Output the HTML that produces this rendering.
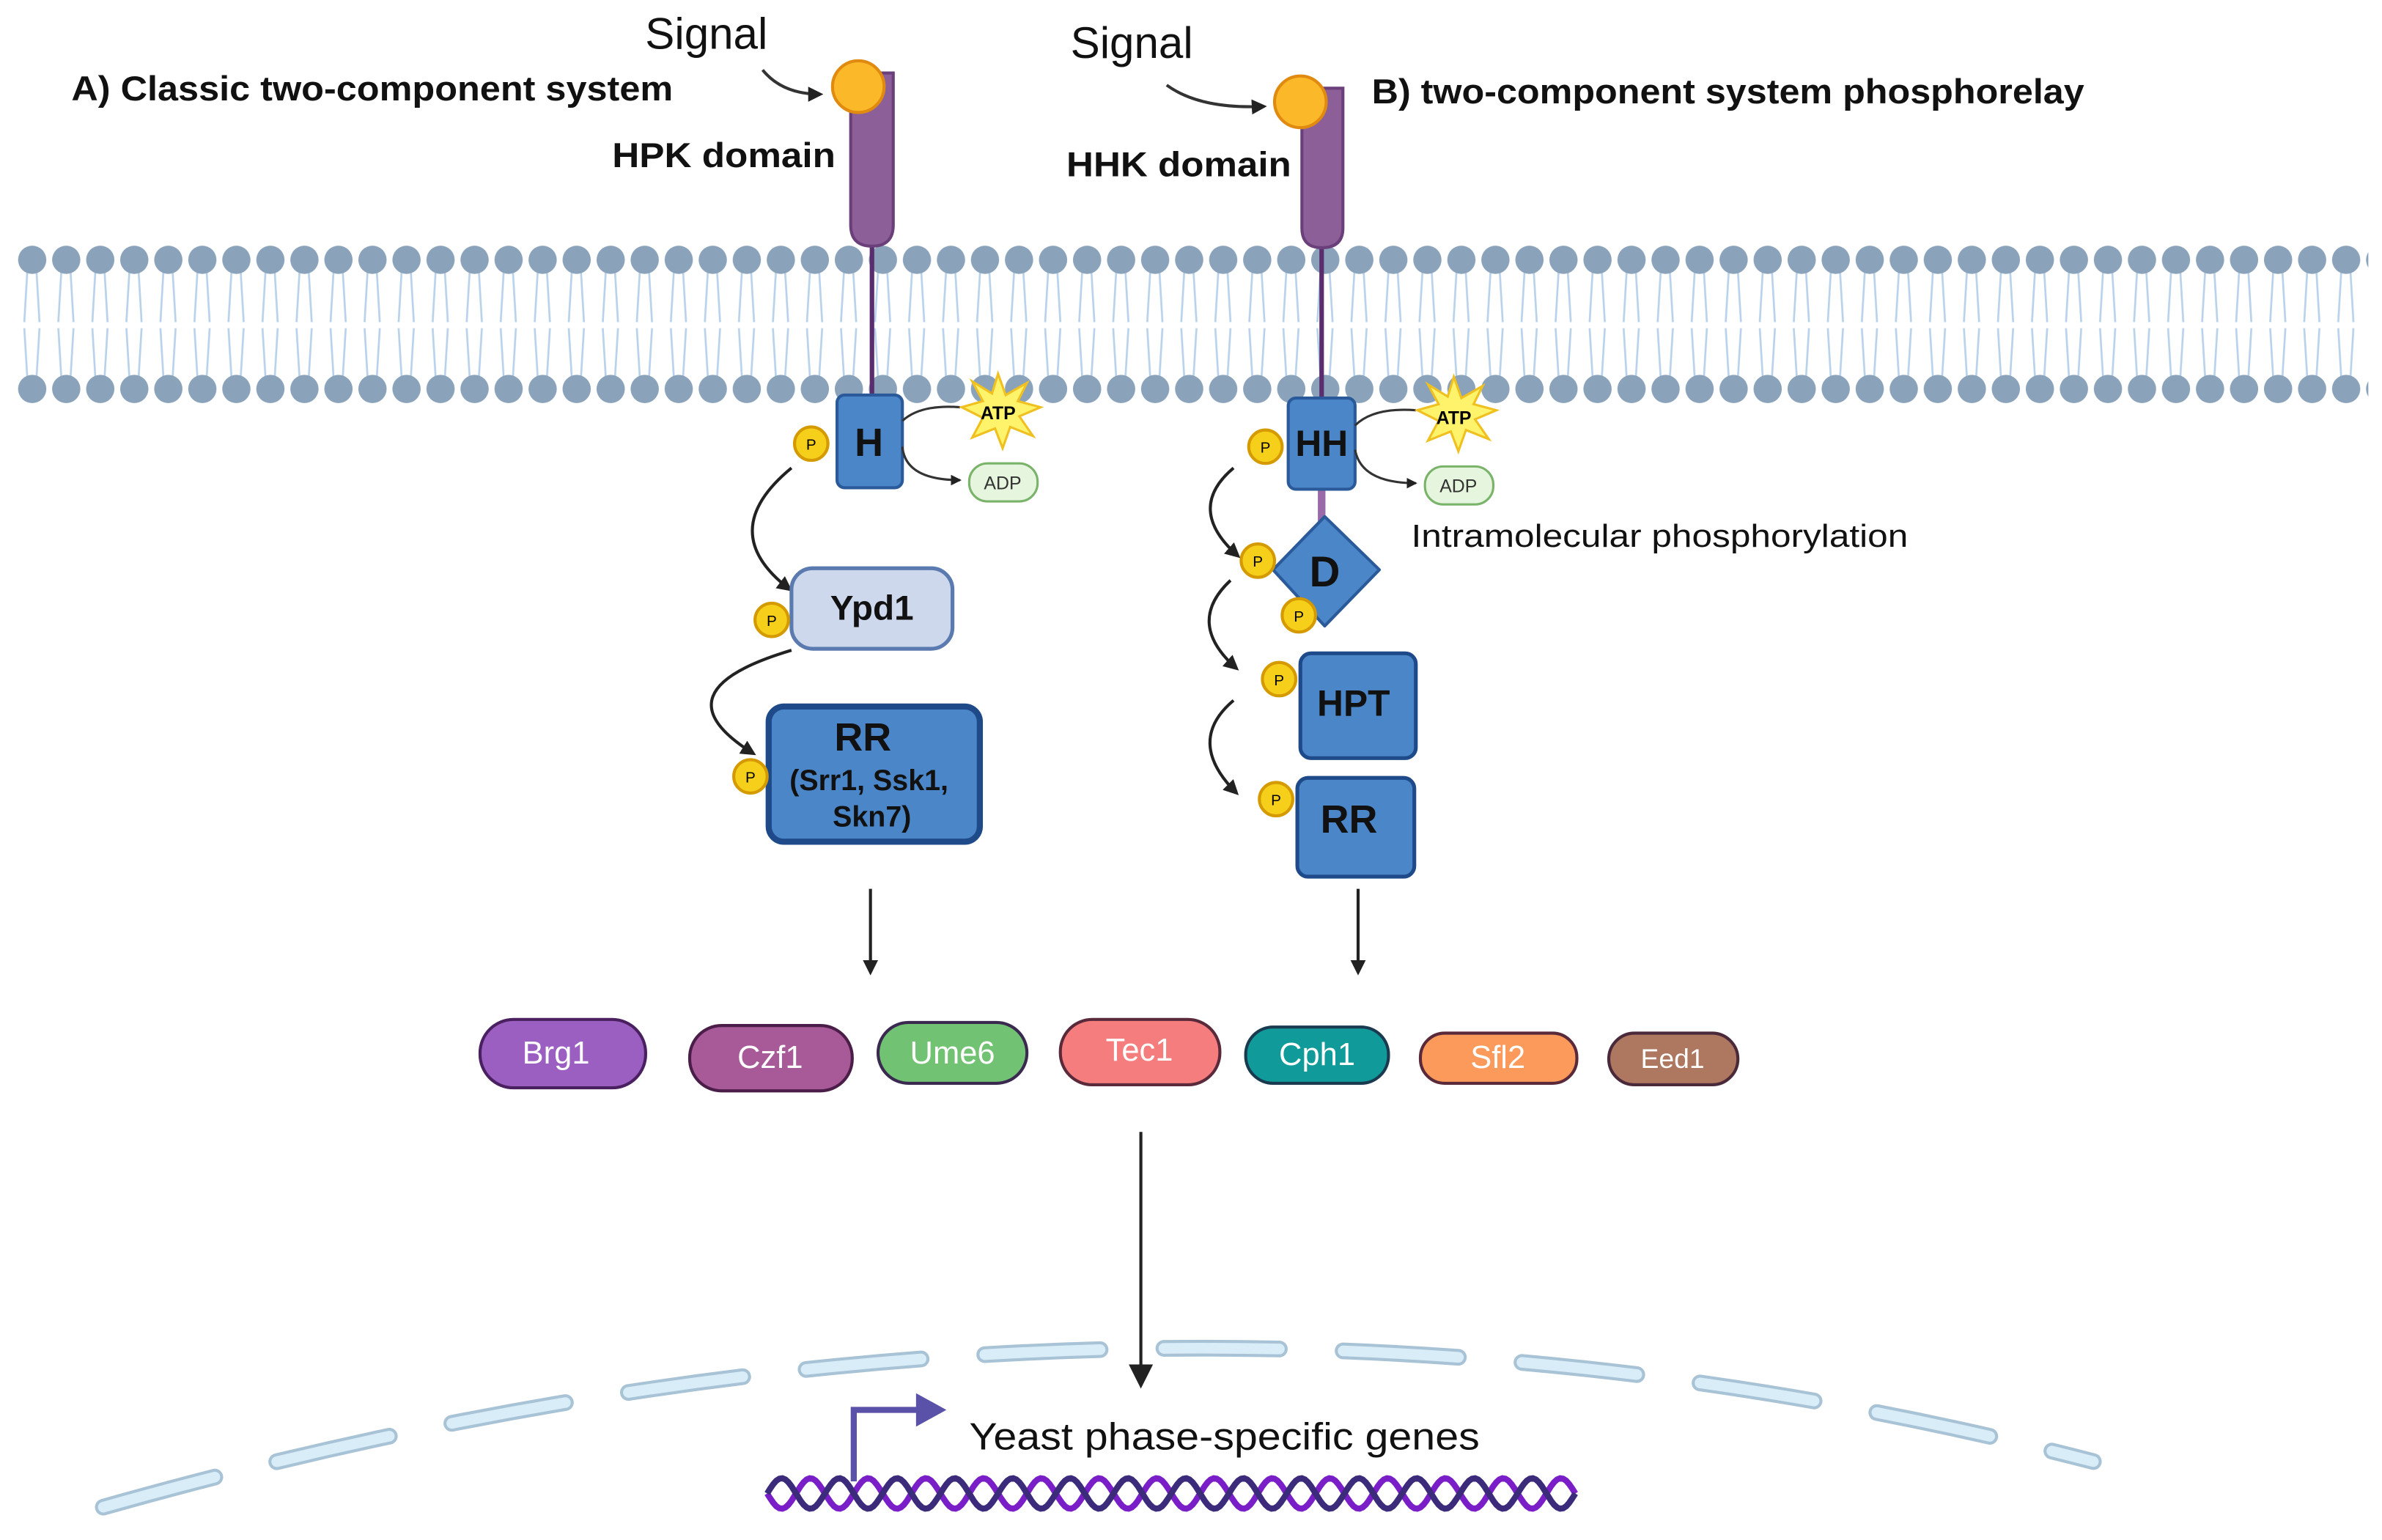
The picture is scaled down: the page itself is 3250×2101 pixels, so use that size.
<!DOCTYPE html>
<html><head><meta charset="utf-8"><style>
html,body{margin:0;padding:0;background:#fff;}
svg{display:block;}
text{font-family:"Liberation Sans",sans-serif;}
</style></head><body>
<svg id="s" width="3250" height="2101" viewBox="0 0 1568 1013.6" xmlns="http://www.w3.org/2000/svg">
<defs>
<pattern id="lip" x="10" y="160" width="22.4" height="107" patternUnits="userSpaceOnUse">
<g stroke="#b9d2ec" stroke-width="1.3" fill="none">
<path d="M8 18 L6 52 M14 18 L16 52"/>
<path d="M8 89 L6 56 M14 89 L16 56"/>
</g>
<circle cx="11.2" cy="11" r="9.3" fill="#8aa3bb"/>
<circle cx="11.2" cy="96" r="9.3" fill="#8aa3bb"/>
</pattern>
<marker id="ah" markerWidth="10" markerHeight="10" refX="8" refY="5" orient="auto" markerUnits="userSpaceOnUse"><path d="M0 0 L10 5 L0 10 Z" fill="#222"/></marker>
<marker id="ahs" markerWidth="7" markerHeight="7" refX="6" refY="3.5" orient="auto" markerUnits="userSpaceOnUse"><path d="M0 0 L7 3.5 L0 7 Z" fill="#222"/></marker>
<marker id="ahb" markerWidth="16" markerHeight="16" refX="14" refY="8" orient="auto" markerUnits="userSpaceOnUse"><path d="M0 0 L16 8 L0 16 Z" fill="#222"/></marker>
</defs>
<rect x="10" y="160" width="1549" height="107" fill="url(#lip)"/>

<!-- Left receptor -->
<line x1="574" y1="150" x2="574" y2="262" stroke="#5a2e6e" stroke-width="3"/>
<path d="M560 48 L588 48 L588 148 Q588 162 574 162 Q560 162 560 148 Z" fill="#8c5f98" stroke="#6a3f7a" stroke-width="2"/>
<circle cx="565" cy="57" r="17" fill="#fbb829" stroke="#e08a10" stroke-width="2"/>
<text x="465" y="32" font-size="29" text-anchor="middle" fill="#111">Signal</text>
<path d="M502 46 Q515 62 540 62" stroke="#333" stroke-width="2" fill="none" marker-end="url(#ah)"/>
<text x="47" y="66" font-size="23" font-weight="bold" fill="#111" textLength="396" lengthAdjust="spacingAndGlyphs">A) Classic two-component system</text>
<text x="403" y="110" font-size="23" font-weight="bold" fill="#111" textLength="147" lengthAdjust="spacingAndGlyphs">HPK domain</text>

<rect x="551" y="260" width="43" height="61" rx="5" fill="#4a86c8" stroke="#2a5a9a" stroke-width="2"/>
<text x="572" y="300" font-size="26" font-weight="bold" text-anchor="middle" fill="#111">H</text>
<g><circle cx="534" cy="292" r="11" fill="#f5cf1a" stroke="#d49a00" stroke-width="2"/><text x="534" y="296" font-size="10" text-anchor="middle">P</text></g>
<path d="M594 277 Q606 266 632 268" stroke="#333" stroke-width="1.5" fill="none"/>
<path d="M594 294 Q596 316 632 316" stroke="#333" stroke-width="1.5" fill="none" marker-end="url(#ahs)"/>
<polygon id="star" points="657,246 662,260 676,252 670,264 685,268 671,274 680,287 665,281 660,295 655,282 640,288 647,275 633,268 647,264 640,251 653,259" fill="#fef36a" stroke="#f0c020" stroke-width="1.5"/>
<text x="657" y="276" font-size="12" font-weight="bold" text-anchor="middle">ATP</text>
<rect x="638" y="305" width="45" height="25" rx="12" fill="#e6f5dd" stroke="#7ab36a" stroke-width="1.5"/>
<text x="660" y="322" font-size="12" text-anchor="middle" fill="#333">ADP</text>

<path d="M521 308 Q470 350 520 388" stroke="#222" stroke-width="2" fill="none" marker-end="url(#ah)"/>
<rect x="521" y="374" width="106" height="53" rx="14" fill="#cdd8ec" stroke="#5a7ab0" stroke-width="2.5"/>
<text x="574" y="408" font-size="23" font-weight="bold" text-anchor="middle" fill="#111">Ypd1</text>
<g><circle cx="508" cy="408" r="11" fill="#f5cf1a" stroke="#d49a00" stroke-width="2"/><text x="508" y="412" font-size="10" text-anchor="middle">P</text></g>
<path d="M521 428 Q430 455 496 496" stroke="#222" stroke-width="2" fill="none" marker-end="url(#ah)"/>
<rect x="506" y="465" width="139" height="89" rx="10" fill="#4a86c8" stroke="#1f4a8a" stroke-width="4"/>
<text x="568" y="494" font-size="26" font-weight="bold" text-anchor="middle" fill="#111">RR</text>
<text x="572" y="520" font-size="19" font-weight="bold" text-anchor="middle" fill="#111">(Srr1, Ssk1,</text>
<text x="574" y="544" font-size="19" font-weight="bold" text-anchor="middle" fill="#111">Skn7)</text>
<g><circle cx="494" cy="511" r="11" fill="#f5cf1a" stroke="#d49a00" stroke-width="2"/><text x="494" y="515" font-size="10" text-anchor="middle">P</text></g>
<line x1="573" y1="585" x2="573" y2="640" stroke="#222" stroke-width="2" marker-end="url(#ah)"/>

<!-- Right receptor -->
<line x1="870" y1="155" x2="870" y2="262" stroke="#5a2e6e" stroke-width="3"/>
<line x1="870" y1="320" x2="870" y2="348" stroke="#9a6aa8" stroke-width="5"/>
<path d="M857 58 L884 58 L884 150 Q884 163 870 163 Q857 163 857 150 Z" fill="#8c5f98" stroke="#6a3f7a" stroke-width="2"/>
<circle cx="856" cy="67" r="17" fill="#fbb829" stroke="#e08a10" stroke-width="2"/>
<text x="745" y="38" font-size="29" text-anchor="middle" fill="#111">Signal</text>
<path d="M768 56 Q790 72 832 70" stroke="#333" stroke-width="2" fill="none" marker-end="url(#ah)"/>
<text x="903" y="68" font-size="23" font-weight="bold" fill="#111" textLength="469" lengthAdjust="spacingAndGlyphs">B) two-component system phosphorelay</text>
<text x="702" y="116" font-size="23" font-weight="bold" fill="#111" textLength="148" lengthAdjust="spacingAndGlyphs">HHK domain</text>

<rect x="848" y="262" width="44" height="60" rx="5" fill="#4a86c8" stroke="#2a5a9a" stroke-width="2"/>
<text x="870" y="300" font-size="24" font-weight="bold" text-anchor="middle" fill="#111">HH</text>
<g><circle cx="833" cy="294" r="11" fill="#f5cf1a" stroke="#d49a00" stroke-width="2"/><text x="833" y="298" font-size="10" text-anchor="middle">P</text></g>
<path d="M892 280 Q904 268 932 270" stroke="#333" stroke-width="1.5" fill="none"/>
<path d="M892 296 Q896 318 932 318" stroke="#333" stroke-width="1.5" fill="none" marker-end="url(#ahs)"/>
<use href="#star" x="300" y="2"/>
<text x="957" y="279" font-size="12" font-weight="bold" text-anchor="middle">ATP</text>
<rect x="938" y="307" width="45" height="25" rx="12" fill="#e6f5dd" stroke="#7ab36a" stroke-width="1.5"/>
<text x="960" y="324" font-size="12" text-anchor="middle" fill="#333">ADP</text>
<text x="929" y="360" font-size="21" fill="#111" textLength="327" lengthAdjust="spacingAndGlyphs">Intramolecular phosphorylation</text>

<polygon points="872,340 908,375 872,412 838,375" fill="#4a86c8" stroke="#2a5a9a" stroke-width="2" stroke-linejoin="round"/>
<text x="872" y="386" font-size="28" font-weight="bold" text-anchor="middle" fill="#111">D</text>
<g><circle cx="828" cy="369" r="11" fill="#f5cf1a" stroke="#d49a00" stroke-width="2"/><text x="828" y="373" font-size="10" text-anchor="middle">P</text></g>
<g><circle cx="855" cy="405" r="11" fill="#f5cf1a" stroke="#d49a00" stroke-width="2"/><text x="855" y="409" font-size="10" text-anchor="middle">P</text></g>
<path d="M812 308 Q780 335 815 366" stroke="#222" stroke-width="2" fill="none" marker-end="url(#ah)"/>
<path d="M810 382 Q780 410 814 440" stroke="#222" stroke-width="2" fill="none" marker-end="url(#ah)"/>
<path d="M812 461 Q780 488 814 522" stroke="#222" stroke-width="2" fill="none" marker-end="url(#ah)"/>

<rect x="856" y="430" width="76" height="69" rx="7" fill="#4a86c8" stroke="#1f4a8a" stroke-width="2.5"/>
<text x="891" y="471" font-size="24" font-weight="bold" text-anchor="middle" fill="#111">HPT</text>
<g><circle cx="842" cy="447" r="11" fill="#f5cf1a" stroke="#d49a00" stroke-width="2"/><text x="842" y="451" font-size="10" text-anchor="middle">P</text></g>
<rect x="854" y="512" width="77" height="65" rx="7" fill="#4a86c8" stroke="#1f4a8a" stroke-width="2.5"/>
<text x="888" y="548" font-size="26" font-weight="bold" text-anchor="middle" fill="#111">RR</text>
<g><circle cx="840" cy="526" r="11" fill="#f5cf1a" stroke="#d49a00" stroke-width="2"/><text x="840" y="530" font-size="10" text-anchor="middle">P</text></g>
<line x1="894" y1="585" x2="894" y2="640" stroke="#222" stroke-width="2" marker-end="url(#ah)"/>

<!-- TFs -->
<g stroke-width="2" font-size="21" text-anchor="middle">
<rect x="316" y="671" width="109" height="45" rx="22" fill="#9b5fc2" stroke="#4a2060"/><text x="366" y="700" fill="#fff" stroke="none">Brg1</text>
<rect x="454" y="675" width="107" height="43" rx="21" fill="#a85a98" stroke="#4a1e48"/><text x="507" y="703" fill="#fff" stroke="none">Czf1</text>
<rect x="578" y="673" width="98" height="40" rx="20" fill="#72c274" stroke="#3a2a50"/><text x="627" y="700" fill="#fff" stroke="none">Ume6</text>
<rect x="698" y="671" width="105" height="43" rx="21" fill="#f57d7d" stroke="#5a2a3a"/><text x="750" y="698" fill="#fff" stroke="none">Tec1</text>
<rect x="820" y="676" width="94" height="37" rx="18" fill="#119a9a" stroke="#1a3a50"/><text x="867" y="701" fill="#fff" stroke="none">Cph1</text>
<rect x="935" y="680" width="103" height="33" rx="16" fill="#fb9a5a" stroke="#5a2a3a"/><text x="986" y="703" fill="#fff" stroke="none">Sfl2</text>
<rect x="1059" y="680" width="85" height="34" rx="17" fill="#ad7760" stroke="#4a2a3a"/><text x="1101" y="703" fill="#fff" stroke="none" font-size="18">Eed1</text>
</g>

<!-- nucleus -->
<path d="M68 992 Q750 799 1378 962" fill="none" stroke="#a9c3d6" stroke-width="11" stroke-linecap="round" stroke-dasharray="76 42"/>
<path d="M68 992 Q750 799 1378 962" fill="none" stroke="#d9edf9" stroke-width="7" stroke-linecap="round" stroke-dasharray="76 42"/>
<line x1="751" y1="745" x2="751" y2="912" stroke="#222" stroke-width="2" marker-end="url(#ahb)"/>

<path id="dna1" fill="none" stroke="#7a1fc8" stroke-width="4"/>
<path id="dna2" fill="none" stroke="#3c2a7a" stroke-width="4"/>
<path d="M562 975 L562 928 L605 928" fill="none" stroke="#5a52a8" stroke-width="4"/>
<polygon points="603,917 623,928 603,939" fill="#5a52a8"/>
<text x="638" y="954" font-size="25" fill="#111" textLength="336" lengthAdjust="spacingAndGlyphs">Yeast phase-specific genes</text>
</svg>
<script>
function h(ph){var d="";for(var x=505;x<=1038;x+=2){var y=983+10*Math.sin((x-505)/38*2*Math.PI+ph);d+=(x==505?"M":"L")+x+" "+y.toFixed(1)+" ";}return d;}
document.getElementById("dna1").setAttribute("d",h(0));
document.getElementById("dna2").setAttribute("d",h(Math.PI));
</script>
</body></html>
